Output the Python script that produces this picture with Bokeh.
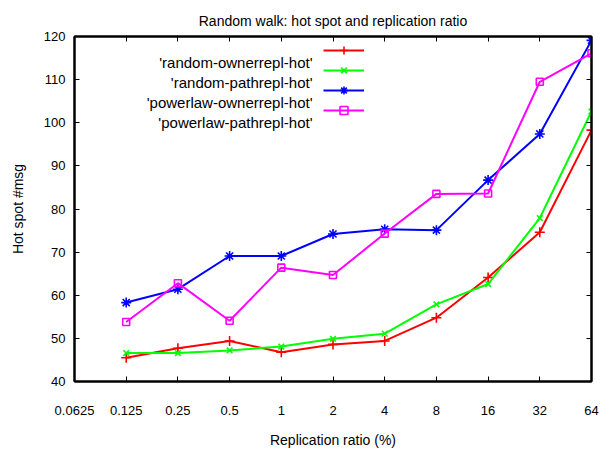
from bokeh.plotting import figure
from bokeh.models import (FixedTicker, LogAxis, LinearAxis, Legend, LegendItem,
                          Label, CustomJSTickFormatter, Range1d)
from bokeh.embed import file_html
from bokeh.resources import INLINE

# ---------------- data ----------------
ratios = [0.125, 0.25, 0.5, 1, 2, 4, 8, 16, 32, 64]
x_ticks = [0.0625, 0.125, 0.25, 0.5, 1, 2, 4, 8, 16, 32, 64]
x_tick_labels = ["0.0625", "0.125", "0.25", "0.5", "1", "2", "4", "8", "16", "32", "64"]
y_ticks = [40, 50, 60, 70, 80, 90, 100, 110, 120]

random_ownerrepl_hot = [45.5, 47.7, 49.4, 46.8, 48.6, 49.4, 54.8, 64.1, 74.6, 98.3]
random_pathrepl_hot = [46.6, 46.6, 47.2, 48.1, 49.9, 51.1, 57.9, 62.6, 77.9, 102.6]
powerlaw_ownerrepl_hot = [58.3, 61.4, 69.1, 69.1, 74.2, 75.3, 75.1, 86.7, 97.4, 119.1]
powerlaw_pathrepl_hot = [53.8, 62.8, 54.1, 66.4, 64.7, 74.3, 83.5, 83.6, 109.5, 116.1]

series_names = ["'random-ownerrepl-hot'", "'random-pathrepl-hot'",
                "'powerlaw-ownerrepl-hot'", "'powerlaw-pathrepl-hot'"]
series_values = [random_ownerrepl_hot, random_pathrepl_hot,
                 powerlaw_ownerrepl_hot, powerlaw_pathrepl_hot]

title_text = "Random walk: hot spot and replication ratio"
x_label = "Replication ratio (%)"
y_label = "Hot spot #msg"

# ---------------- styles ----------------
colors = ["#ff0000", "#00ff00", "#0000ff", "#ff00ff"]
markers = ["cross", "x", "asterisk", "square"]
marker_sizes = [10, 8, 10, 7]
FONT = "Liberation Sans"

p = figure(width=609, height=455, output_backend="svg", toolbar_location=None,
           x_axis_type="log", x_range=Range1d(0.0625, 64), y_range=Range1d(40, 120),
           min_border_left=74, min_border_right=18, min_border_top=36, min_border_bottom=74)

p.title.text = title_text
p.title.align = "center"
p.title.text_font = FONT
p.title.text_font_size = "14px"
p.title.text_font_style = "normal"
p.title.text_color = "#000000"
p.title.standoff = 16

p.xgrid.visible = False
p.ygrid.visible = False
p.outline_line_color = "black"
p.outline_line_width = 2
p.background_fill_color = "white"
p.border_fill_color = "white"

def style_axis(ax):
    ax.axis_line_color = "black"
    ax.axis_line_width = 2
    ax.major_tick_in = 5
    ax.major_tick_out = 0
    ax.minor_tick_in = 0
    ax.minor_tick_out = 0
    ax.major_tick_line_color = "black"
    ax.major_label_text_font = FONT
    ax.major_label_text_font_size = "13px"
    ax.major_label_text_color = "#000000"
    ax.axis_label_text_font = FONT
    ax.axis_label_text_font_size = "14px"
    ax.axis_label_text_font_style = "normal"
    ax.axis_label_text_color = "#000000"

xa = p.xaxis[0]
xa.ticker = FixedTicker(ticks=x_ticks, minor_ticks=[])
xa.major_label_overrides = {t: l for t, l in zip(x_ticks, x_tick_labels)}
xa.axis_label = x_label
style_axis(xa)
xa.major_label_standoff = 24
xa.axis_label_standoff = 14

ya = p.yaxis[0]
ya.ticker = FixedTicker(ticks=y_ticks, minor_ticks=[])
ya.axis_label = y_label
style_axis(ya)
ya.major_label_standoff = 9
ya.axis_label_standoff = 15

empty = CustomJSTickFormatter(code="return ''")
top = LogAxis(ticker=FixedTicker(ticks=x_ticks, minor_ticks=[]), formatter=empty)
style_axis(top)
top.major_label_standoff = 0
p.add_layout(top, "above")
right = LinearAxis(ticker=FixedTicker(ticks=y_ticks, minor_ticks=[]), formatter=empty)
style_axis(right)
right.major_label_standoff = 0
p.add_layout(right, "right")

items = []
for name, vals, c, m, s in zip(series_names, series_values, colors, markers, marker_sizes):
    ln = p.line(ratios, vals, line_color=c, line_width=2)
    if m == "square":
        sc = p.scatter(ratios, vals, marker=m, size=s, line_color=c, fill_color=None, line_width=1.6)
    else:
        sc = p.scatter(ratios, vals, marker=m, size=s, line_color=c, line_width=1.6)
    items.append(LegendItem(label="", renderers=[ln, sc]))

legend = Legend(items=items, location=(249, 261), glyph_width=41, glyph_height=20,
                spacing=0, padding=0, margin=0, label_standoff=0, label_width=0,
                label_height=20, border_line_color=None, background_fill_alpha=0,
                label_text_font_size="12px")
p.add_layout(legend, "center")

label_y = [319, 299, 279, 259]
for name, ly in zip(series_names, label_y):
    p.add_layout(Label(x=238, y=ly, x_units="screen", y_units="screen", text=name,
                       text_align="right", text_baseline="middle", text_font=FONT,
                       text_font_size="15px", text_color="#000000"))

open("out.html", "w").write(file_html(p, INLINE))
